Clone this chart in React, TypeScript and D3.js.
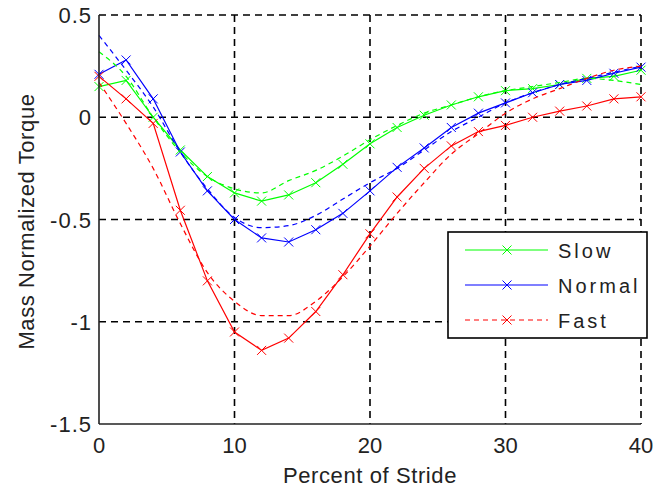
import React, { useRef, useEffect } from "react";
import * as d3 from "d3";

// percent of stride, every 2%
const stride = [0, 2, 4, 6, 8, 10, 12, 14, 16, 18, 20, 22, 24, 26, 28, 30, 32, 34, 36, 38, 40];

const slow = [0.15, 0.18, 0.0, -0.16, -0.29, -0.37, -0.41, -0.38, -0.32, -0.23, -0.13, -0.05, 0.01, 0.06, 0.1, 0.13, 0.14, 0.16, 0.19, 0.2, 0.23];
const normal = [0.21, 0.28, 0.09, -0.17, -0.36, -0.5, -0.59, -0.61, -0.55, -0.47, -0.36, -0.245, -0.15, -0.05, 0.02, 0.07, 0.12, 0.16, 0.18, 0.215, 0.245];
const fast = [0.2, 0.09, -0.03, -0.455, -0.8, -1.05, -1.14, -1.08, -0.95, -0.77, -0.57, -0.39, -0.25, -0.14, -0.07, -0.04, 0.0, 0.03, 0.055, 0.09, 0.1];

// dashed reference curves
const slowRef = [0.32, 0.2, 0.0, -0.17, -0.29, -0.35, -0.37, -0.31, -0.26, -0.19, -0.11, -0.04, 0.02, 0.06, 0.1, 0.13, 0.15, 0.17, 0.19, 0.18, 0.16];
const normalRef = [0.4, 0.23, 0.05, -0.17, -0.35, -0.49, -0.54, -0.53, -0.48, -0.4, -0.32, -0.25, -0.16, -0.07, 0.0, 0.07, 0.12, 0.16, 0.19, 0.22, 0.25];
const fastRef = [0.17, -0.03, -0.25, -0.52, -0.76, -0.9, -0.97, -0.97, -0.9, -0.78, -0.63, -0.47, -0.32, -0.18, -0.08, 0.02, 0.09, 0.14, 0.19, 0.23, 0.25];

const xTicks = [0, 10, 20, 30, 40];
const yTicks = [-1.5, -1, -0.5, 0, 0.5];

const legendNames = ["Slow", "Normal", "Fast"];

const App = () => {
  const svgRef = useRef(null);

  useEffect(() => {
    const W = 654, H = 488;
    const margin = { top: 15, right: 13, bottom: 64, left: 99 };
    const width = W - margin.left - margin.right;
    const height = H - margin.top - margin.bottom;
    const font = "'Liberation Sans', Arial, sans-serif";

    const svg = d3.select(svgRef.current).attr("width", W).attr("height", H);
    svg.selectAll("*").remove();
    svg.append("rect").attr("width", W).attr("height", H).attr("fill", "#fff");

    const g = svg.append("g").attr("transform", `translate(${margin.left},${margin.top})`);

    const x = d3.scaleLinear().domain([0, 40]).range([0, width]);
    const y = d3.scaleLinear().domain([-1.5, 0.5]).range([height, 0]);

    // grid
    g.selectAll(".vgrid")
      .data(xTicks.filter((t) => t > 0))
      .enter()
      .append("line")
      .attr("x1", (d) => x(d)).attr("x2", (d) => x(d))
      .attr("y1", 0).attr("y2", height)
      .attr("stroke", "#000").attr("stroke-width", 1.6)
      .attr("stroke-dasharray", "7,5");
    g.selectAll(".hgrid")
      .data(yTicks.filter((t) => t > -1.5))
      .enter()
      .append("line")
      .attr("x1", 0).attr("x2", width)
      .attr("y1", (d) => y(d)).attr("y2", (d) => y(d))
      .attr("stroke", "#000").attr("stroke-width", 1.6)
      .attr("stroke-dasharray", "7,5");

    const series = [
      { vals: slow, color: "#00ff00", dash: null, markers: true },
      { vals: normal, color: "#0000ff", dash: null, markers: true },
      { vals: fast, color: "#ff0000", dash: null, markers: true },
      { vals: slowRef, color: "#00ff00", dash: "5,4", markers: false },
      { vals: normalRef, color: "#0000ff", dash: "5,4", markers: false },
      { vals: fastRef, color: "#ff0000", dash: "5,4", markers: false },
    ];

    const line = d3.line<number>().x((_, i) => x(stride[i])).y((d) => y(d));
    const smooth = d3.line<number>().x((_, i) => x(stride[i])).y((d) => y(d)).curve(d3.curveMonotoneX);

    const ms = 4.5;
    series.forEach((s) => {
      g.append("path")
        .attr("d", (s.dash ? smooth : line)(s.vals))
        .attr("fill", "none")
        .attr("stroke", s.color)
        .attr("stroke-width", 1.2)
        .attr("stroke-dasharray", s.dash);
      if (s.markers) {
        g.selectAll(null)
          .data(s.vals)
          .enter()
          .append("path")
          .attr("d", (d, i) => {
            const cx = x(stride[i]), cy = y(d);
            return `M${cx - ms},${cy - ms}L${cx + ms},${cy + ms}M${cx - ms},${cy + ms}L${cx + ms},${cy - ms}`;
          })
          .attr("stroke", s.color)
          .attr("stroke-width", 1);
      }
    });

    // axes (left & bottom solid)
    g.append("line").attr("x1", 0).attr("x2", 0).attr("y1", 0).attr("y2", height)
      .attr("stroke", "#222").attr("stroke-width", 1.6);
    g.append("line").attr("x1", 0).attr("x2", width).attr("y1", height).attr("y2", height)
      .attr("stroke", "#222").attr("stroke-width", 1.6);

    g.selectAll(".xt")
      .data(xTicks)
      .enter()
      .append("text")
      .attr("x", (d) => x(d))
      .attr("y", height + 29)
      .attr("text-anchor", "middle")
      .style("font-family", font)
      .style("font-size", "22px")
      .style("fill", "#222")
      .text((d) => d);

    g.selectAll(".yt")
      .data(yTicks)
      .enter()
      .append("text")
      .attr("x", -7)
      .attr("y", (d) => y(d) + 8)
      .attr("text-anchor", "end")
      .style("font-family", font)
      .style("font-size", "22px")
      .style("letter-spacing", "1px")
      .style("fill", "#222")
      .text((d) => d);

    svg.append("text")
      .attr("x", margin.left + width / 2)
      .attr("y", H - 5)
      .attr("text-anchor", "middle")
      .style("font-family", font)
      .style("font-size", "22px")
      .style("letter-spacing", "0.6px")
      .style("fill", "#222")
      .text("Percent of Stride");

    svg.append("text")
      .attr("transform", `translate(34,${margin.top + height / 2 + 2}) rotate(-90)`)
      .attr("text-anchor", "middle")
      .style("font-family", font)
      .style("font-size", "22px")
      .style("letter-spacing", "0.6px")
      .style("fill", "#222")
      .text("Mass Normalized Torque");

    // legend
    const lg = svg.append("g").attr("transform", "translate(448,232)");
    lg.append("rect").attr("width", 199).attr("height", 106)
      .attr("fill", "#fff").attr("stroke", "#000").attr("stroke-width", 1.6);
    series.slice(0, 3).forEach((s, i) => {
      const ly = 18 + i * 35;
      lg.append("line")
        .attr("x1", 17).attr("x2", 100).attr("y1", ly).attr("y2", ly)
        .attr("stroke", s.color).attr("stroke-width", 1.2)
        .attr("stroke-dasharray", i === 2 ? "5,4" : null);
      lg.append("path")
        .attr("d", `M${59 - ms},${ly - ms}L${59 + ms},${ly + ms}M${59 - ms},${ly + ms}L${59 + ms},${ly - ms}`)
        .attr("stroke", s.color).attr("stroke-width", 1);
      lg.append("text")
        .attr("x", 110)
        .attr("y", ly + 8)
        .style("font-family", font)
        .style("font-size", "20px")
        .style("letter-spacing", "3px")
        .style("fill", "#222")
        .text(legendNames[i]);
    });
  }, []);

  return <svg ref={svgRef} style={{ display: "block", position: "fixed", top: 0, left: 0 }}></svg>;
};

export default App;
